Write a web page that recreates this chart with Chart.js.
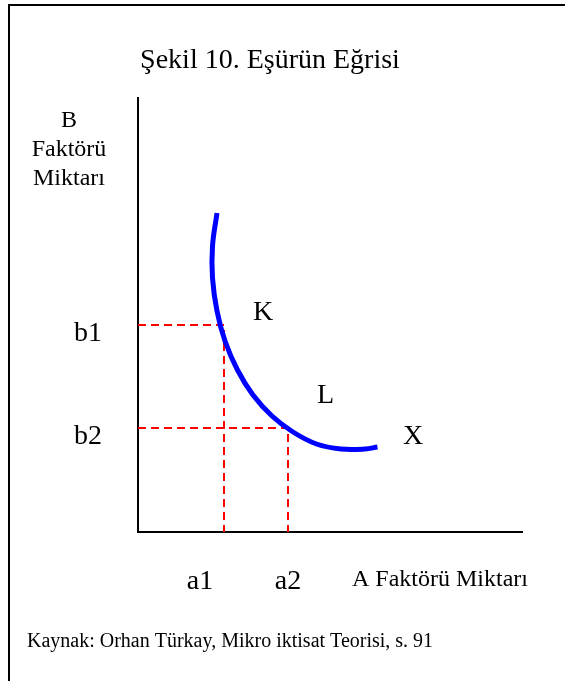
<!DOCTYPE html>
<html>
<head>
<meta charset="utf-8">
<script src="https://cdn.jsdelivr.net/npm/chart.js@4"></script>
<style>
  html, body { margin: 0; padding: 0; background: #fff; }
  #wrap { width: 565px; height: 681px; position: relative; }
</style>
</head>
<body>
<div id="wrap"><canvas id="isoquant"></canvas></div>
<script>
// Axis extents (no ticks shown, only the two axis lines)
const xMax = 385;
const yMax = 435;

// Isoquant curve points
const curveX = [79, 74.5, 74.5, 79, 87, 99.5, 115, 134, 155, 178.5, 203, 227, 239.5];
const curveY = [319, 286, 254, 221, 191, 162, 137, 116, 100, 88, 83, 83, 85];

// Input combinations marked with dashed guides
const aValues = [86, 150];
const aLabels = ['a1', 'a2'];
const bValues = [207, 104];
const bLabels = ['b1', 'b2'];

// Point labels along the curve
const pointLabels = ['K', 'L', 'X'];
const pointX = [115, 179, 265];
const pointY = [212, 129, 88];

const titleText = 'Şekil 10. Eşürün Eğrisi';
const xAxisTitle = 'A Faktörü Miktarı';
const yAxisTitle = ['B', 'Faktörü', 'Miktarı'];
const sourceText = 'Kaynak: Orhan Türkay, Mikro iktisat Teorisi, s. 91';

const serif = '"Liberation Serif", "Times New Roman", serif';

const curve = curveX.map((x, i) => ({ x: x, y: curveY[i] }));

// One dashed L-shaped guide per (a, b) pair
const guides = aValues.map((a, i) => ({
    label: 'guide ' + (i + 1),
    data: [{ x: 0, y: bValues[i] }, { x: a, y: bValues[i] }, { x: a, y: 0 }],
    showLine: true,
    borderColor: '#ff0000',
    borderWidth: 2,
    borderDash: [8, 5],
    pointRadius: 0,
    tension: 0,
    fill: false
}));

const decorations = {
    id: 'decorations',
    beforeDatasetsDraw(chart) {
        const { ctx, chartArea } = chart;
        ctx.save();
        ctx.strokeStyle = '#000';
        ctx.lineWidth = 2;
        // outer frame (top and left edges)
        ctx.beginPath();
        ctx.moveTo(565, 5);
        ctx.lineTo(9, 5);
        ctx.lineTo(9, 681);
        ctx.stroke();
        // axes
        ctx.beginPath();
        ctx.moveTo(chartArea.left, chartArea.top);
        ctx.lineTo(chartArea.left, chartArea.bottom);
        ctx.lineTo(chartArea.right, chartArea.bottom);
        ctx.stroke();
        ctx.restore();
    },
    afterDraw(chart) {
        const { ctx } = chart;
        const xs = chart.scales.x;
        const ys = chart.scales.y;
        // a1 sits a little left of its guide
        const aShift = [-24, 0];
        ctx.save();
        ctx.fillStyle = '#000';
        ctx.textBaseline = 'alphabetic';

        ctx.font = '28px ' + serif;
        ctx.textAlign = 'center';
        ctx.fillText(titleText, 270, 68);

        aValues.forEach((a, i) => {
            ctx.fillText(aLabels[i], xs.getPixelForValue(a) + aShift[i], 589);
        });
        ctx.textAlign = 'right';
        bValues.forEach((b, i) => {
            ctx.fillText(bLabels[i], 102, ys.getPixelForValue(b) + 16);
        });

        ctx.textAlign = 'left';
        pointLabels.forEach((t, i) => {
            ctx.fillText(t, xs.getPixelForValue(pointX[i]), ys.getPixelForValue(pointY[i]));
        });

        ctx.font = '24px ' + serif;
        ctx.fillText(xAxisTitle, 352, 586);
        ctx.textAlign = 'center';
        yAxisTitle.forEach((t, i) => {
            ctx.fillText(t, 69, 127 + i * 29);
        });

        ctx.font = '20px ' + serif;
        ctx.textAlign = 'left';
        ctx.fillText(sourceText, 27, 647);
        ctx.restore();
    }
};

new Chart(document.getElementById('isoquant'), {
    type: 'scatter',
    data: {
        datasets: [{
            label: 'Eşürün',
            data: curve,
            showLine: true,
            borderColor: '#0000ff',
            borderWidth: 5,
            pointRadius: 0,
            tension: 0.4,
            fill: false
        }, ...guides]
    },
    options: {
        responsive: true,
        maintainAspectRatio: false,
        animation: false,
        layout: { padding: { left: 138, right: 42, top: 97, bottom: 149 } },
        plugins: {
            legend: { display: false },
            tooltip: { enabled: false },
            title: { display: false }
        },
        scales: {
            x: { type: 'linear', min: 0, max: xMax, display: false },
            y: { type: 'linear', min: 0, max: yMax, display: false }
        }
    },
    plugins: [decorations]
});
</script>
</body>
</html>
